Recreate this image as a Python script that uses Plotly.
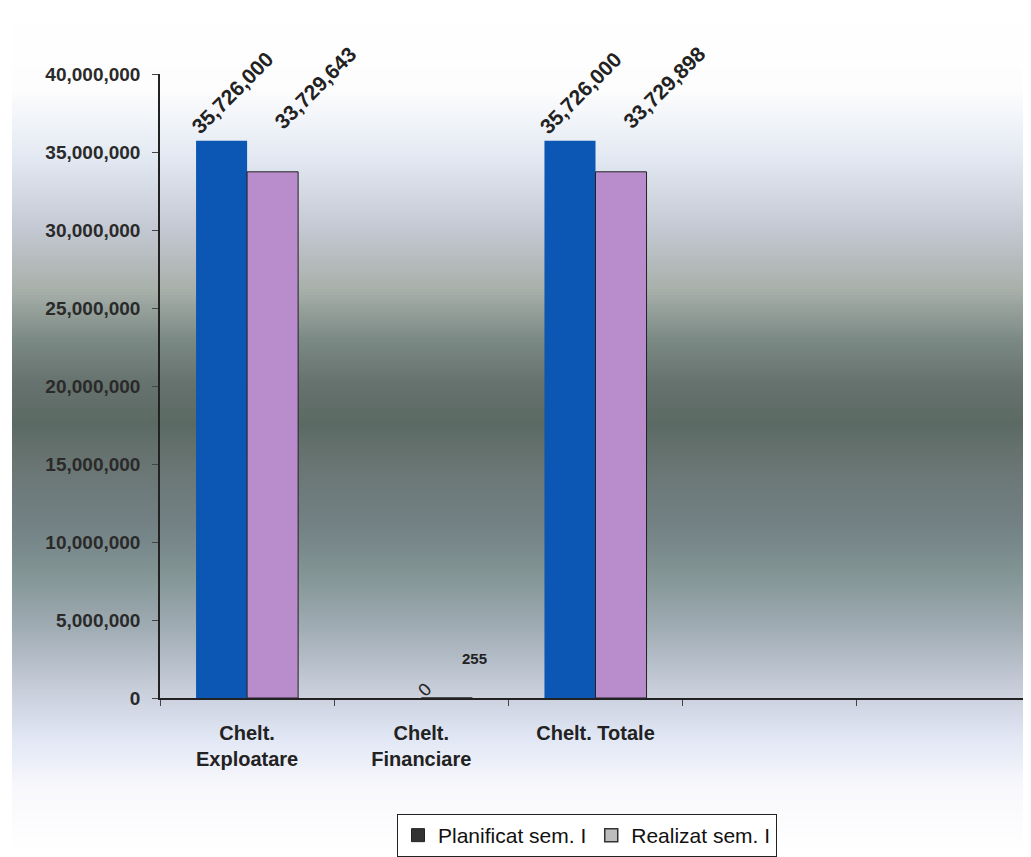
import plotly.graph_objects as go

# ---- data ----
categories = ["Chelt.<br>Exploatare", "Chelt.<br>Financiare", "Chelt. Totale"]
extra_slots = [" ", "  "]
planificat = [35726000, 0, 35726000]
realizat = [33729643, 255, 33729898]
series_names = ["Planificat sem. I", "Realizat sem. I"]
label_text_planificat = ["35,726,000", "0", "35,726,000"]
label_text_realizat = ["33,729,643", "255", "33,729,898"]

# ---- geometry (pixels, page offset of 8px from body margin) ----
OFF = 8
W, H = 1031 - OFF, 857 - OFF
L, R, T = 160 - OFF, 0, 74 - OFF
B = H - (701 - OFF)
PW, PH = W - L - R, H - T - B

def py(y):  # page y -> paper y
    return (H - B - (y - OFF)) / PH

def px(x):  # page x -> paper x
    return ((x - OFF) - L) / PW

fig = go.Figure()

fig.add_trace(go.Bar(x=categories, y=planificat, name=series_names[0],
                     marker=dict(color="#0b57b3", line=dict(width=0)),
                     showlegend=False))
fig.add_trace(go.Bar(x=categories, y=realizat, name=series_names[1],
                     marker=dict(color="#b98ccb", line=dict(width=1, color="#222")),
                     showlegend=False))
# legend proxies (legend uses grey squares as in the reference)
fig.add_trace(go.Scatter(x=[None], y=[None], name=series_names[0], mode="markers",
                         marker=dict(symbol="square", size=13, color="#333333",
                                     line=dict(width=1, color="#222"))))
fig.add_trace(go.Scatter(x=[None], y=[None], name=series_names[1], mode="markers",
                         marker=dict(symbol="square", size=13, color="#bdbdbd",
                                     line=dict(width=1.5, color="#333"))))

# ---- background gradient via strips (page y coords) ----
stops = [
    (0, (255, 255, 255)), (90, (253, 253, 253)), (160, (226, 232, 242)),
    (230, (196, 200, 210)), (290, (168, 176, 170)), (340, (124, 138, 134)),
    (385, (102, 114, 110)), (425, (92, 106, 100)), (470, (106, 118, 116)),
    (530, (116, 130, 134)), (580, (132, 150, 150)), (630, (160, 172, 180)),
    (690, (198, 204, 216)), (740, (224, 230, 244)), (790, (248, 248, 252)),
    (857, (255, 255, 255)),
]

def color_at(y):
    for (y0, c0), (y1, c1) in zip(stops[:-1], stops[1:]):
        if y0 <= y <= y1:
            t = (y - y0) / (y1 - y0) if y1 > y0 else 0
            c = [round(a + (b - a) * t) for a, b in zip(c0, c1)]
            return "rgb(%d,%d,%d)" % tuple(c)
    return "rgb(255,255,255)"

shapes = []
step = 3
for y in range(OFF, 857, step):
    shapes.append(dict(type="rect", xref="paper", yref="paper",
                       x0=px(OFF + 4), x1=px(1031), y0=py(y + step + 1), y1=py(y),
                       fillcolor=color_at(y + step / 2), line=dict(width=0), layer="below"))

# ---- data labels ----
half = 0.147
LABEL_FONT = "Liberation Sans, Arial"
annos = []
for i, (v, t) in enumerate(zip(planificat, label_text_planificat)):
    if v == 0:
        annos.append(dict(x=i - half, y=v, xref="x", yref="y", text=t, showarrow=False,
                          textangle=-45, xshift=29, yshift=8,
                          font=dict(family=LABEL_FONT, size=18, color="#222")))
    else:
        annos.append(dict(x=i - half, y=v, xref="x", yref="y", text=t, showarrow=False,
                          textangle=-45, xshift=11, yshift=48,
                          font=dict(family=LABEL_FONT, size=21, color="#222", weight="bold")))
for i, (v, t) in enumerate(zip(realizat, label_text_realizat)):
    if v < 1000:
        annos.append(dict(x=i + half, y=v, xref="x", yref="y", text=t, showarrow=False,
                          xshift=28, yshift=40,
                          font=dict(family=LABEL_FONT, size=15, color="#222", weight="bold")))
    else:
        annos.append(dict(x=i + half, y=v, xref="x", yref="y", text=t, showarrow=False,
                          textangle=-45, xshift=43, yshift=84,
                          font=dict(family=LABEL_FONT, size=21, color="#222", weight="bold")))

fig.update_layout(
    width=W, height=H,
    margin=dict(l=L, r=R, t=T, b=B),
    paper_bgcolor="white", plot_bgcolor="rgba(0,0,0,0)",
    barmode="group", bargap=0.414, bargroupgap=0,
    shapes=shapes, annotations=annos,
    font=dict(family="Liberation Sans, Arial", color="#222"),
    xaxis=dict(type="category", categoryorder="array",
               categoryarray=categories + extra_slots,
               range=[-0.5, 4.5], showgrid=False, zeroline=False,
               showline=True, linecolor="#222", linewidth=2,
               ticks="outside", tickson="boundaries", ticklen=6, tickcolor="#444",
               ticklabelstandoff=16,
               tickfont=dict(size=20, color="#222", weight="bold")),
    yaxis=dict(range=[0, 40000000], dtick=5000000, tickformat=",d",
               showgrid=False, zeroline=False,
               showline=True, linecolor="#222", linewidth=1.5,
               ticks="outside", ticklen=6, tickcolor="#444",
               ticklabelstandoff=8,
               tickfont=dict(size=19, color="#2a2a2a", weight="bold")),
    legend=dict(orientation="h", x=px(587), y=py(818), xanchor="center", yanchor="top",
                bgcolor="white", bordercolor="#222", borderwidth=1,
                font=dict(size=21, color="#111", family="Liberation Sans, Arial"),
                itemwidth=30, tracegroupgap=0),
)

fig.write_html("out.html")
